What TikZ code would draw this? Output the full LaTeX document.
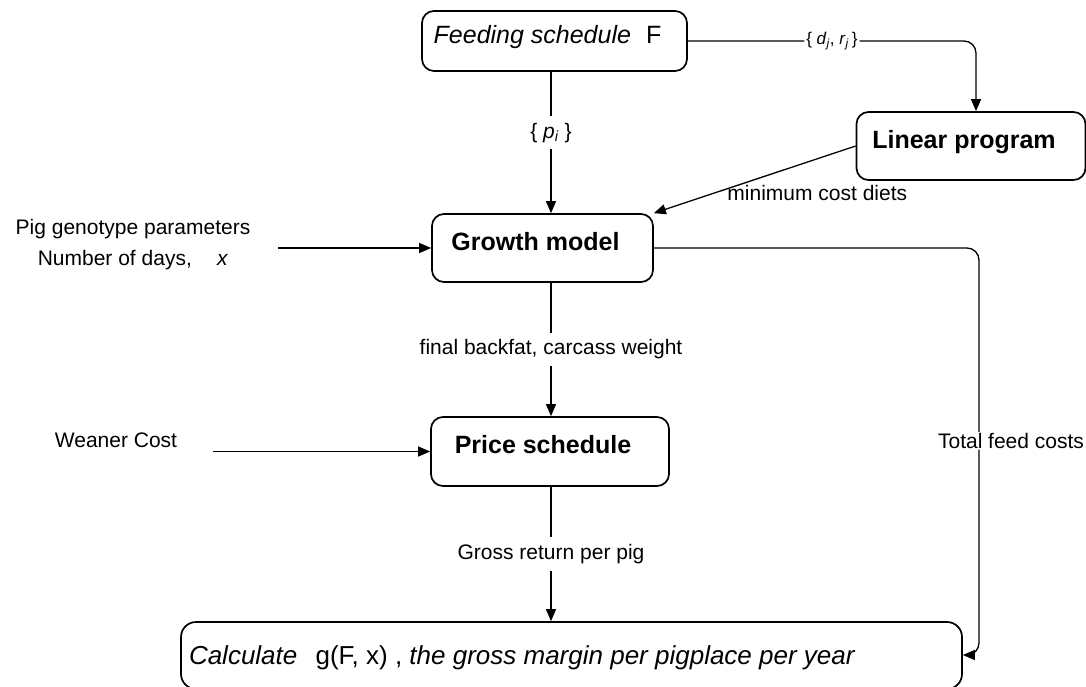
\documentclass[tikz,border=0pt]{standalone}
\usepackage{fontspec}
\setmainfont{Liberation Sans}
\usetikzlibrary{arrows.meta,calc}
\begin{document}
\begin{tikzpicture}[x=1pt,y=-1pt,
  box/.style={draw, line width=1.7pt, rounded corners=12pt, inner sep=0pt,
    font=\fontsize{25}{30}\selectfont, text height=18pt, text depth=14pt,
    execute at begin node={\hspace{-14pt}}},
  conn/.style={line width=1.3pt, -{Triangle[length=12pt,width=10pt]}},
  lbl/.style={font=\fontsize{21}{31}\selectfont, inner xsep=2pt, inner ysep=1pt},
  gaplbl/.style={lbl, fill=white, inner ysep=7pt},
  smalllbl/.style={font=\fontsize{17}{20}\selectfont, fill=white, inner sep=2pt}
]
\useasboundingbox (0,0) rectangle (1086,686);
\clip (0,0) rectangle (1086,686);

% boxes
\node[box, minimum width=265pt, minimum height=60pt] (fs) at (554.5,41)
  {\textit{Feeding schedule}\hspace{0.6em}F};
\node[box, minimum width=229pt, minimum height=68pt] (lp) at (971,146)
  {\bfseries Linear program};
\node[box, minimum width=221pt, minimum height=68pt] (gm) at (542.5,248)
  {\bfseries Growth model};
\node[box, minimum width=238pt, minimum height=69pt] (ps) at (550,451.5)
  {\bfseries Price schedule};
\node[box, minimum width=781pt, minimum height=67pt, rounded corners=15pt, font=\fontsize{26}{30}\selectfont,
  text height=19pt, text depth=1pt, execute at begin node={}] (calc) at (571.5,655.5)
  {\makebox[765pt][l]{\hspace{7pt}\textit{Calculate}\hspace{0.7em}g(F, x) , \textit{the gross margin per pigplace per year}}};

% inputs
\node[lbl, align=center] (pg) at (133,245) {Pig genotype parameters\\Number of days,\hspace{1.2em}\textit{x}};
\coordinate (pgs) at (278,248);
\node[lbl] (wc) at (116,440) {Weaner Cost};
\coordinate (wcs) at (213,451.5);

\coordinate (colx) at (551,0);
\coordinate (rc) at (979,655);
\coordinate (ce) at (calc.east |- rc);

% connectors
\draw[conn, rounded corners=12pt] (fs.east) -| ([xshift=5pt]lp.north)
  node[pos=0.25, smalllbl] {\{\ \textit{d}\textsubscript{\textit{j}}, \textit{r}\textsubscript{\textit{j}}\,\}};
\draw[conn] (fs.south -| colx) -- (gm.north -| colx)
  node[pos=0.43, gaplbl] {\{ \textit{p}\textsubscript{\textit{i}} \}};
\draw[conn] (lp.west) -- (gm.north east)
  node[pos=0.19, yshift=-34pt, lbl] {minimum cost diets};
\draw[conn, rounded corners=12pt] (gm.east) -| (rc)
  node[pos=0.737, xshift=32pt, lbl, fill=white] {Total feed costs} -- (ce);
\draw[conn] (pgs) -- (gm.west);
\draw[conn] (gm.south -| colx) -- (ps.north -| colx)
  node[midway, gaplbl] {final backfat, carcass weight};
\draw[conn] (wcs) -- (ps.west);
\draw[conn] (ps.south -| colx) -- (calc.north -| colx)
  node[midway, gaplbl] {Gross return per pig};
\end{tikzpicture}
\end{document}
